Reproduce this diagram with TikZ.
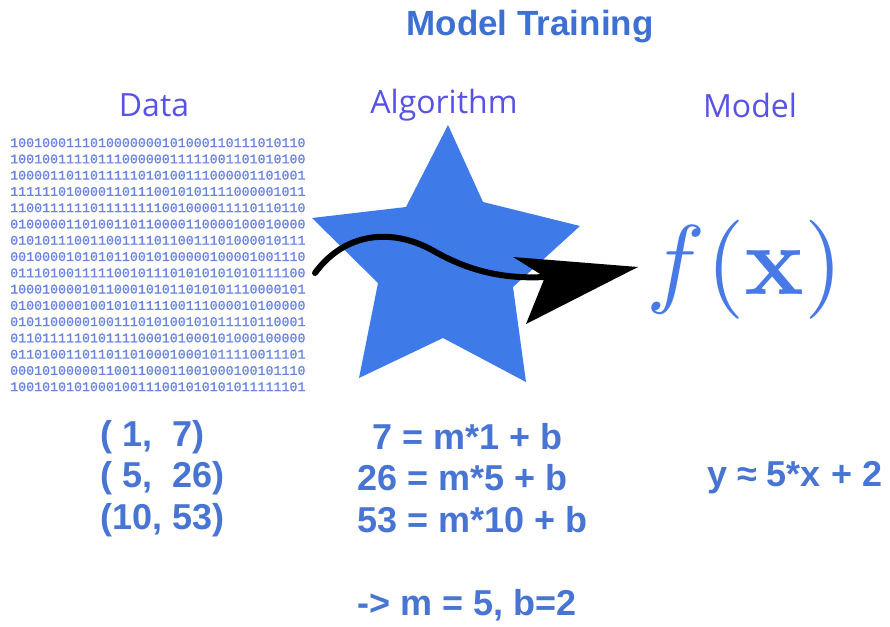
\documentclass[tikz,border=0pt]{standalone}
\usepackage[no-math]{fontspec}
\setmainfont{Liberation Sans}
\newfontfamily\labfont{Open Sans}
\newfontfamily\binfont[FakeBold=1.2]{Liberation Mono}
\definecolor{titleblue}{RGB}{62,112,212}
\definecolor{labblue}{RGB}{88,82,230}
\definecolor{binblue}{RGB}{104,132,224}
\definecolor{starblue}{RGB}{62,122,232}
\definecolor{fxblue}{RGB}{72,122,230}
\definecolor{eqblue}{RGB}{72,116,212}
\tikzset{
  titletext/.style={font=\fontsize{35}{40}\selectfont\bfseries, text=titleblue, inner sep=0},
  headtext/.style={font=\labfont\fontsize{32}{38}\selectfont, text=labblue, inner sep=0},
  bintext/.style={font=\binfont\fontsize{13.3}{14}\selectfont, text=binblue, anchor=west, inner sep=0},
  eqtext/.style={font=\fontsize{36}{42}\selectfont\bfseries, text=eqblue, anchor=west, inner sep=0},
}
\begin{document}
\begin{tikzpicture}[x=1pt,y=-1pt]
\useasboundingbox (0,0) rectangle (890,626);
\fill[white] (0,0) rectangle (890,626);

\node[titletext] (title) at (530,27) {Model Training};
\node[headtext] (data) at (154,105) {Data};
\node[headtext] (algo) at (444,105) {Algorithm};
\node[headtext] (model) at (750,105) {Model};

\foreach \r [count=\i] in {
1001000111010000000101000110111010110,
1001001111011100000011111001101010100,
1000011011011111010100111000001101001,
1111110100001101110010101111000001011,
1100111111011111111001000011110110110,
0100000110100110110000110000100010000,
0101011100110011110110011101000010111,
0010000101010110010100000100001001110,
0111010011111001011101010101010111100,
1000100001011000101011010101110000101,
0100100001001010111100111000010100000,
0101100000100111010100101011110110001,
0110111110101111000101000101000100000,
0110100110110110100010001011110011101,
0001010000011001100011001000100101110,
1001010101000100111001010101011111101}
  \node[bintext] (bin\i) at (10,{142.7+16.27*(\i-1)}) {\r};

% star
\fill[starblue] (448,125) -- (483,202) -- (580,226) -- (513,287) -- (526,382)
  -- (443,338) -- (359,378) -- (378,283) -- (312,218) -- (406,207) -- cycle;

% arrow
\coordinate (astart) at (315,273);
\coordinate (aneck) at (545,277);
\coordinate (atip) at (638,267);
\coordinate (aback1) at (513,257);
\coordinate (aback2) at (526,324);
\draw[line width=6pt, line cap=round] (astart) .. controls (345,232) and (392,228) .. (432,250)
  .. controls (470,272) and (505,279) .. (aneck);
\fill[black] (atip) -- (aback1) -- (aneck) -- (aback2) -- cycle;

\node[text=fxblue, inner sep=0] (fx) at (745,270) {\scalebox{9.9}{$f(\mathbf{x})$}};

\node[eqtext] (p1) at (100,437) {( 1,\ \ 7)};
\node[eqtext] (p2) at (100,478) {( 5,\ \ 26)};
\node[eqtext] (p3) at (100,520) {(10, 53)};
\node[eqtext] (e1) at (372,437) {7 = m*1 + b};
\node[eqtext] (e2) at (357,478) {26 = m*5 + b};
\node[eqtext] (e3) at (357,520) {53 = m*10 + b};
\node[eqtext] (res) at (357,605) {-> m = 5, b=2};
\node[eqtext] (mod) at (707,478) {y ≈ 5*x + 2};
\end{tikzpicture}
\end{document}
